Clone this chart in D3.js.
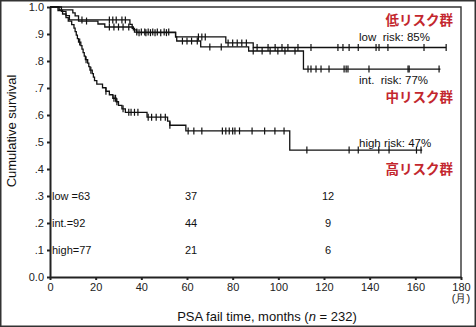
<!DOCTYPE html>
<meta charset="utf-8">
<style>
  body { margin: 0; background: #fff; }
  svg { display: block; font-family: "Liberation Sans", Arial, sans-serif; }
  .axis text { font-size: 11px; fill: #222; }
  .axis path, .axis line { stroke: #222; }
  .risk { font-family: "Noto Sans CJK JP", sans-serif; font-weight: bold; font-size: 13.5px; fill: #c3272e; }
</style>
<body>
<svg width="476" height="327"></svg>
<script src="https://d3js.org/d3.v7.min.js"></script>
<script>

// Kaplan-Meier steps: [month, survival after the event]
var lowSteps = [[5, .984], [7, .968], [8.5, .952], [35, .936], [36, .921], [37, .907],
  [55, .889], [77, .867], [89, .85]]
var intSteps = [[4, .989], [10, .978], [11, .967], [12.5, .948], [21, .937], [24, .926],
  [36.5, .915], [38, .905], [55, .889], [55.5, .874], [66, .852], [87, .837], [111, .77]]
var highSteps = [[3.5, .987], [5.5, .974], [7, .961], [8, .948], [9.5, .935], [10.5, .922],
  [11, .909], [11.5, .896], [12, .883], [12.5, .87], [13.5, .857], [14, .844], [14.5, .831],
  [15, .818], [15.5, .805], [16.5, .792], [17, .779], [17.5, .766], [18.5, .753], [19, .74],
  [19.5, .727], [20.5, .714], [23, .701], [24.5, .688], [26, .675], [27.5, .662], [29, .649],
  [30, .636], [31.5, .623], [33, .61], [42.5, .592], [51.5, .577], [52.5, .562], [59.5, .541],
  [105, .47]]

// censored observations (months)
var lowCensored = [14, 26, 27.5, 29, 31.5, 33, 38, 40, 41.5, 43, 45, 47, 50, 52, 65, 66.5, 68,
  78, 80, 82, 84, 86, 90.7, 95.5, 98.6, 101.6, 104.2, 108.6, 114.3, 126.1, 128.3, 131, 135,
  142.8, 144.1, 148, 163.8, 173.5]
var intCensored = [16, 26, 28, 30, 32, 34.5, 39, 42, 44, 46, 48.5, 51, 58, 60, 62, 64.5, 70, 75,
  89, 92.9, 96.4, 99.8, 102.9, 107.3, 113, 114.3, 116.5, 118.7, 122.2, 128.8, 129.7, 130.5,
  139.7, 156.8, 157.3, 170.4]
var highCensored = [13, 15.8, 17.9, 24.5, 28, 28.7, 29.3, 32, 34.5, 35.5, 37, 38.5, 43, 44.5,
  46.5, 48.5, 50.5, 52.5, 60.5, 63, 66.5, 75.5, 77, 78.5, 80, 81, 83, 88.5, 94, 98.5, 102.5,
  112.5, 131, 135, 144, 148.5, 160.5, 162.5]

var followUp = [173.5, 171, 163]
var curveLabels = ['low  risk: 85%', 'int.  risk: 77%', 'high risk: 47%']
var riskGroups = ['低リスク群', '中リスク群', '高リスク群']

// numbers at risk
var atRiskNames = ['low =63', 'int.=92', 'high=77']
var atRiskMonths = [60, 120]
var atRiskLow = [37, 12]
var atRiskInt = [44, 9]
var atRiskHigh = [21, 6]

var xTicks = [0, 20, 40, 60, 80, 100, 120, 140, 160, 180]
var yTicks = [0, .1, .2, .3, .4, .5, .6, .7, .8, .9, 1]

var svg = d3.select('svg')

var x = d3.scaleLinear().domain([0, 180]).range([50, 461])
var y = d3.scaleLinear().domain([0, 1]).range([277, 7])

// outer border
svg.append('rect')
  .attr('x', 0.75).attr('y', 0.75).attr('width', 474.5).attr('height', 325.5)
  .attr('fill', 'none').attr('stroke', '#333').attr('stroke-width', 1.5)

// frame (top / right)
svg.append('path')
  .attr('d', 'M' + x(0) + ',' + y(1) + 'H' + x(180) + 'V' + y(0))
  .attr('fill', 'none').attr('stroke', '#333').attr('stroke-width', 1.4)

var yAxis = svg.append('g').attr('class', 'axis')
  .attr('transform', 'translate(' + x(0) + ',0)')
  .call(d3.axisLeft(y).tickValues(yTicks).tickSize(3).tickSizeOuter(0).tickPadding(3)
    .tickFormat(function (d) {
      if (d === 0) return '0.0'
      if (d === 1) return '1.0'
      return d3.format('.1f')(d).replace(/^0/, '')
    }))
yAxis.select('.domain').attr('stroke-width', 2)
yAxis.selectAll('line').attr('stroke-width', 2)

var xAxis = svg.append('g').attr('class', 'axis')
  .attr('transform', 'translate(0,' + y(0) + ')')
  .call(d3.axisBottom(x).tickValues(xTicks).tickSize(3).tickSizeOuter(0).tickPadding(3))
xAxis.select('.domain').attr('stroke-width', 2)
xAxis.selectAll('line').attr('stroke-width', 2)

svg.append('text')
  .attr('x', x(180)).attr('y', 302)
  .attr('text-anchor', 'middle').attr('font-size', 11).attr('fill', '#222')
  .text('(月)')

var title = svg.append('text')
  .attr('x', 267).attr('y', 321)
  .attr('text-anchor', 'middle').attr('font-size', 13).attr('fill', '#111')
title.append('tspan').text('PSA fail time, months (')
title.append('tspan').attr('font-style', 'italic').text('n')
title.append('tspan').text(' = 232)')

svg.append('text')
  .attr('transform', 'translate(16,' + 131 + ') rotate(-90)')
  .attr('text-anchor', 'middle').attr('font-size', 13).attr('fill', '#111')
  .text('Cumulative survival')

function survivalAt(steps, t) {
  var s = 1
  steps.forEach(function (p) { if (p[0] <= t) s = p[1] })
  return s
}

var curves = [
  { steps: lowSteps, censored: lowCensored, end: followUp[0] },
  { steps: intSteps, censored: intCensored, end: followUp[1] },
  { steps: highSteps, censored: highCensored, end: followUp[2] }
]

var line = d3.line()
  .x(function (d) { return x(d[0]) })
  .y(function (d) { return y(d[1]) })
  .curve(d3.curveStepAfter)

var curveGroup = svg.append('g')

curves.forEach(function (c) {
  var last = c.steps[c.steps.length - 1][1]
  var pts = [[0, 1]].concat(c.steps).concat([[c.end, last]])
  curveGroup.append('path')
    .attr('d', line(pts))
    .attr('fill', 'none').attr('stroke', '#111').attr('stroke-width', 1.3)

  curveGroup.selectAll(null)
    .data(c.censored)
    .enter().append('line')
    .attr('x1', function (t) { return x(t) })
    .attr('x2', function (t) { return x(t) })
    .attr('y1', function (t) { return y(survivalAt(c.steps, t)) - 3.5 })
    .attr('y2', function (t) { return y(survivalAt(c.steps, t)) + 3.5 })
    .attr('stroke', '#111').attr('stroke-width', 1.2)
})

// curve end labels
var labelY = [41, 84, 147]
svg.selectAll('.curve-label')
  .data(curveLabels)
  .enter().append('text')
  .attr('class', 'curve-label')
  .attr('x', 359).attr('y', function (d, i) { return labelY[i] })
  .attr('font-size', 11.5).attr('fill', '#111')
  .attr('xml:space', 'preserve')
  .style('white-space', 'pre')
  .text(function (d) { return d })

// red group labels
var groupY = [25, 102, 174]
svg.selectAll('.risk')
  .data(riskGroups)
  .enter().append('text')
  .attr('class', 'risk')
  .attr('x', 453).attr('y', function (d, i) { return groupY[i] })
  .attr('text-anchor', 'end')
  .text(function (d) { return d })

// numbers at risk rows
var rows = [atRiskLow, atRiskInt, atRiskHigh]
var rowLevels = [.3, .2, .1]
rows.forEach(function (counts, i) {
  var yy = y(rowLevels[i]) + 4
  svg.append('text')
    .attr('x', 52).attr('y', yy)
    .attr('font-size', 11).attr('fill', '#111')
    .text(atRiskNames[i])
  counts.forEach(function (n, j) {
    svg.append('text')
      .attr('x', x(atRiskMonths[j]) + 4).attr('y', yy)
      .attr('text-anchor', 'middle')
      .attr('font-size', 11).attr('fill', '#111')
      .text(n)
  })
})

</script>
